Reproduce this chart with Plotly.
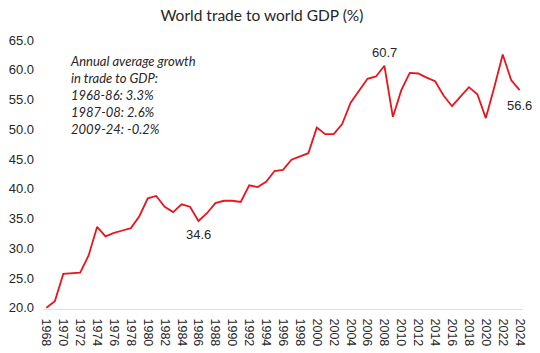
import plotly.graph_objects as go

years = list(range(1968, 2025))
trade_gdp = [
    20.0, 21.1, 25.7, 25.8, 25.9, 28.8, 33.6, 32.0, 32.6, 33.0,
    33.4, 35.4, 38.4, 38.8, 37.0, 36.1, 37.4, 37.0, 34.6, 35.9,
    37.6, 38.0, 38.0, 37.8, 40.6, 40.3, 41.2, 43.0, 43.2, 44.9,
    45.5, 46.0, 50.3, 49.2, 49.2, 50.9, 54.5, 56.6, 58.5, 58.9,
    60.7, 52.1, 56.6, 59.5, 59.4, 58.7, 58.1, 55.7, 53.9, 55.5,
    57.1, 55.9, 51.9, 57.1, 62.6, 58.3, 56.6,
]
y_ticks = [20, 25, 30, 35, 40, 45, 50, 55, 60, 65]
x_ticks = list(range(1968, 2025, 2))
note_lines = ["Annual average growth", "in trade to GDP:", "1968-86: 3.3%", "1987-08: 2.6%", "2009-24: -0.2%"]
labelled = {1986: -14, 2008: 13, 2024: -15}

FONT = "Lato"
NUMFONT = "Liberation Sans"
TXT = "#262626"

fig = go.Figure()
fig.add_trace(go.Scatter(x=years, y=trade_gdp, mode="lines",
                         line=dict(color="#e8151d", width=1.8), hoverinfo="skip"))

for yr, shift in labelled.items():
    v = trade_gdp[years.index(yr)]
    fig.add_annotation(x=yr, y=v, text=f"{v:.1f}", showarrow=False, yshift=shift,
                       font=dict(family=NUMFONT, size=13, color=TXT))

fig.add_annotation(x=1970.5, y=63.2, xanchor="left", yanchor="top", align="left",
                   text="<br>".join(f"<i>{s}</i>" for s in note_lines), showarrow=False,
                   font=dict(family=FONT, size=13, color=TXT))

fig.update_layout(
    width=540, height=353,
    margin=dict(l=43, r=17, t=39, b=44),
    paper_bgcolor="white", plot_bgcolor="white",
    showlegend=False,
    title=dict(text="World trade to world GDP (%)", x=0.485, xanchor="center", y=0.955, yanchor="middle",
               font=dict(family=FONT, size=15.5, color=TXT)),
    xaxis=dict(range=[1967.6, 2024.4], tickvals=x_ticks, ticktext=[str(t) for t in x_ticks],
               tickangle=90, showgrid=False, zeroline=False, showline=True, linecolor="#e0e0e0",
               ticks="", ticklabelstandoff=6, automargin=False,
               tickfont=dict(family=NUMFONT, size=12.5, color=TXT)),
    yaxis=dict(range=[19.8, 65.2], tickvals=y_ticks, tickformat=".1f", showgrid=False,
               zeroline=False, showline=False, ticks="", ticklabelstandoff=8, automargin=False,
               tickfont=dict(family=NUMFONT, size=13, color=TXT)),
)

fig.write_html("out.html")
